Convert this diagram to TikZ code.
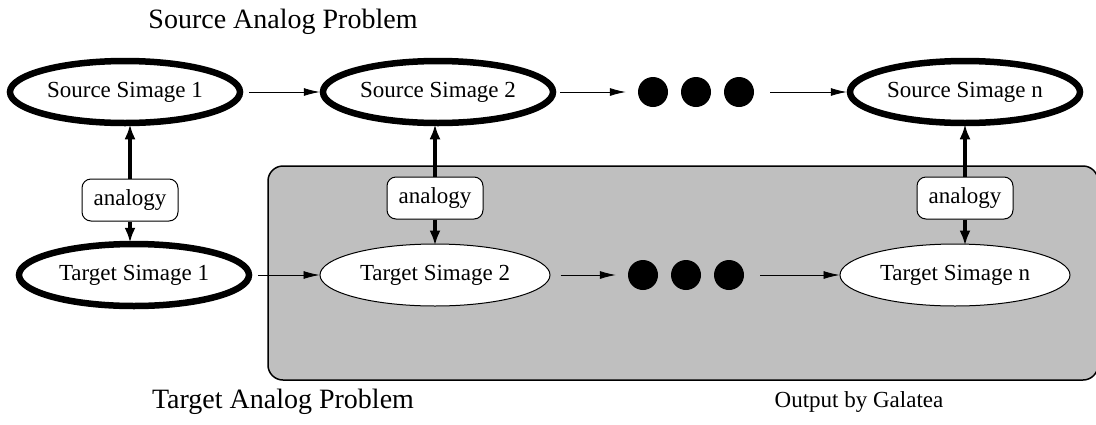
\documentclass[tikz,border=0pt]{standalone}
\usepackage{fontspec}
\setmainfont{Liberation Serif}
\usetikzlibrary{shapes.geometric,arrows.meta}
\begin{document}
\begin{tikzpicture}[x=1pt,y=-1pt,
	simage/.style={ellipse, draw=black, fill=white, minimum width=230pt, minimum height=62pt, inner sep=0pt, font=\fontsize{23}{25}\selectfont},
	bold/.style={line width=6.5pt},
	analogy/.style={rectangle, rounded corners=9pt, draw=black, fill=white, line width=1pt, minimum width=96pt, minimum height=42pt, inner sep=2pt, font=\fontsize{23}{25}\selectfont},
	dot/.style={circle, fill=black, minimum size=30pt, inner sep=0pt},
	title/.style={font=\fontsize{28}{30}\selectfont},
	thin/.style={black, line width=0.8pt, -{Latex[length=16pt,width=8pt]}},
	thick/.style={black, line width=4pt, -{Latex[length=15pt,width=11pt]}, shorten >=-2pt}]
	
	\useasboundingbox (0,0) rectangle (1096,424);
	
	%Box
	\draw[fill=black!25, line width=1.5pt, rounded corners=15pt] (268,166) rectangle (1098,380);
	
	%Nodes
	\node[simage, bold]	(s1)	at (125,92) {Source Simage 1};
	\node[simage, bold]	(s2)	at (438,92) {Source Simage 2};
	\node[simage, bold]	(sn)	at (965,92) {Source Simage n};
	\node[simage, bold]	(t1)	at (134,275) {Target Simage 1};
	\node[simage, line width=1pt]	(t2)	at (435,275) {Target Simage 2};
	\node[simage, line width=1pt]	(tn)	at (955,275) {Target Simage n};
	\node[dot]	(sa)	at (653,92) {};
	\node[dot]	(sb)	at (696,92) {};
	\node[dot]	(sc)	at (739,92) {};
	\node[dot]	(ta)	at (643,275) {};
	\node[dot]	(tb)	at (686,275) {};
	\node[dot]	(tc)	at (729,275) {};
	\node[analogy]	(a1)	at (130,200) {analogy};
	\node[analogy]	(a2)	at (435,198) {analogy};
	\node[analogy]	(an)	at (965,198) {analogy};
	\node[title]	(sp)	at (283,22) {Source Analog Problem};
	\node[title]	(tp)	at (283,402) {Target Analog Problem};
	\node[font=\fontsize{23}{25}\selectfont]	(gal)	at (859,402) {Output by Galatea};
	
	%Lines
	\draw[thin, shorten <=6pt] (s1) -- (s2);
	\draw[thin, shorten <=4pt, shorten >=12pt] (s2) -- (sa);
	\draw[thin, shorten <=16pt] (sc) -- (sn);
	\draw[thin, shorten <=6pt] (t1) -- (t2);
	\draw[thin, shorten <=10pt, shorten >=12pt] (t2) -- (ta);
	\draw[thin, shorten <=16pt] (tc) -- (tn);
	\draw[thick] (a1) -- (s1.south -| a1);
	\draw[thick] (a1) -- (t1.north -| a1);
	\draw[thick] (a2) -- (s2.south -| a2);
	\draw[thick] (a2) -- (t2);
	\draw[thick] (an) -- (sn);
	\draw[thick] (an) -- (tn.north -| an);
\end{tikzpicture}
\end{document}
